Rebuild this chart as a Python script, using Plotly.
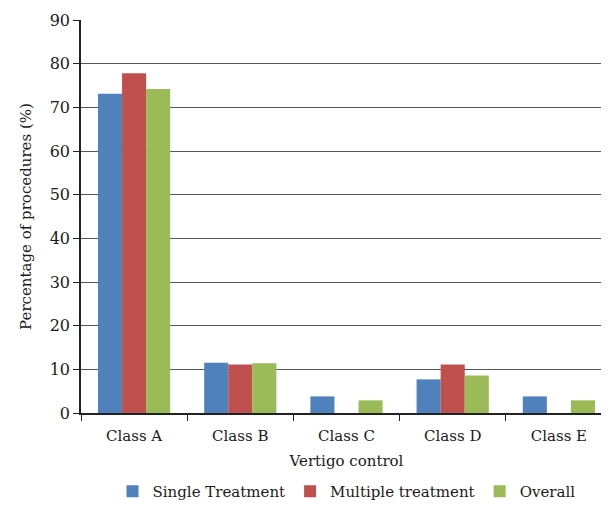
import plotly.graph_objects as go

categories = ["Class A", "Class B", "Class C", "Class D", "Class E"]
single = [73.1, 11.5, 3.8, 7.7, 3.8]
multiple = [77.8, 11.1, 0, 11.1, 0]
overall = [74.2, 11.4, 2.9, 8.6, 2.9]
series_names = ["Single Treatment", "Multiple treatment", "Overall"]
colors = ["#4F81BD", "#C0504D", "#9BBB59"]
y_ticks = [0, 10, 20, 30, 40, 50, 60, 70, 80, 90]

FONT = "DejaVu Serif"

fig = go.Figure()
for name, vals, col in zip(series_names, [single, multiple, overall], colors):
    fig.add_trace(go.Bar(x=categories, y=vals, name=name, marker_color=col,
                         marker_line_width=0))

fig.update_layout(
    width=609, height=505,
    margin=dict(l=73, r=5, t=12, b=95),
    paper_bgcolor="white", plot_bgcolor="white",
    barmode="group", bargap=0.32, bargroupgap=0,
    font=dict(family=FONT, size=15, color="#1a1a1a"),
    showlegend=True,
    legend=dict(orientation="h", x=0.5, xanchor="center", y=-0.2, yanchor="middle",
                font=dict(size=15), itemwidth=30, tracegroupgap=0),
    xaxis=dict(
        range=[-0.5, 4.5], automargin=False,
        showline=True, linecolor="#222", linewidth=1.5,
        ticks="outside", tickson="boundaries", ticklen=6, tickcolor="#222",
        tickfont=dict(size=15), ticklabelstandoff=8,
        title=dict(text="Vertigo control", font=dict(size=15), standoff=12),
        showgrid=False,
    ),
    yaxis=dict(
        range=[0, 90], tickvals=y_ticks, automargin=False,
        showline=True, linecolor="#222", linewidth=1.5,
        ticks="outside", ticklen=6, tickcolor="#222",
        tickfont=dict(size=16),
        showgrid=True, gridcolor="#555", gridwidth=1.3,
        zeroline=False,
        title=dict(text="Percentage of procedures (%)", font=dict(size=15), standoff=14),
    ),
)

fig.write_html("out.html")
